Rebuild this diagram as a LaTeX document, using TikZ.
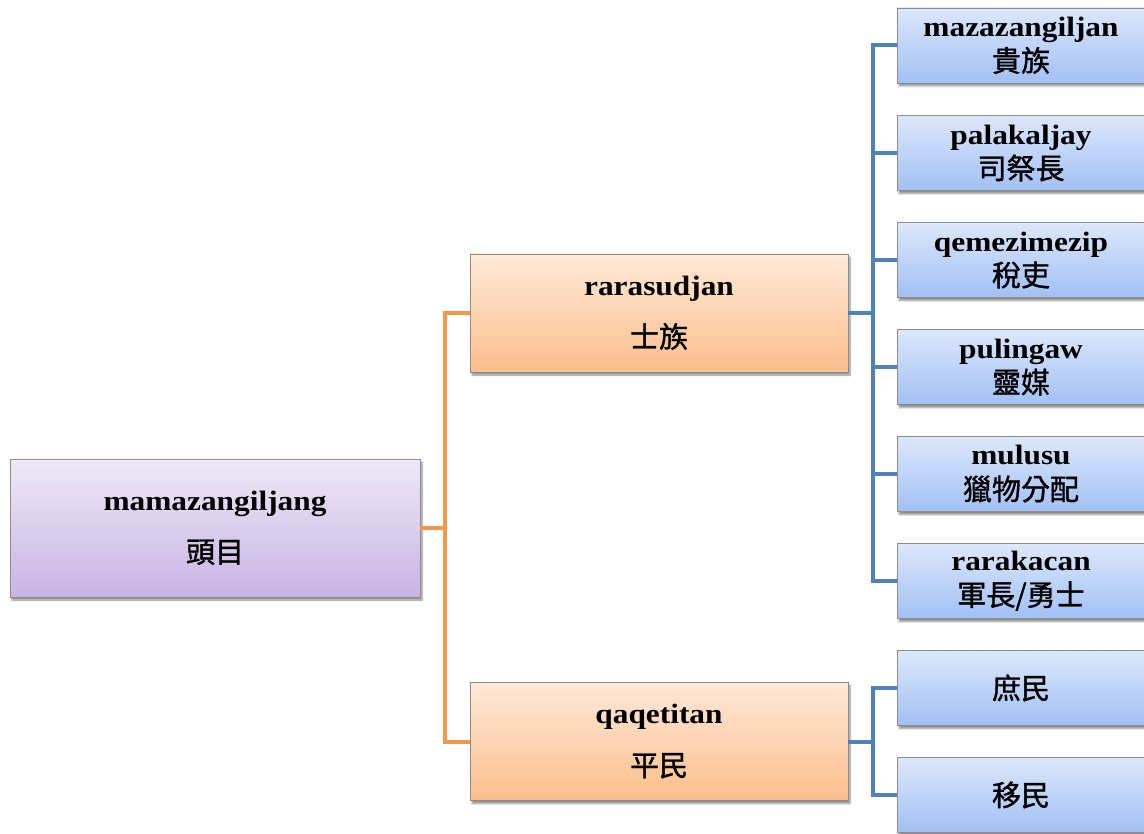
\documentclass[tikz,border=0pt]{standalone}
\usepackage{fontspec}
\setmainfont{Liberation Serif}[FakeStretch=1.12]
\newfontfamily\cjk{Noto Sans CJK TC}[FakeBold=1.2]
\usetikzlibrary{shadows.blur}
\definecolor{purtop}{HTML}{EEE8F7}
\definecolor{purbot}{HTML}{C8B4E4}
\definecolor{orgtop}{HTML}{FFE9D8}
\definecolor{orgbot}{HTML}{FBBE8C}
\definecolor{blutop}{HTML}{DCE7FB}
\definecolor{blubot}{HTML}{A2C0F4}
\definecolor{orgline}{HTML}{F79646}
\definecolor{bluline}{HTML}{4F81BD}
\definecolor{boxedge}{HTML}{8C8C8C}
\tikzset{
  box/.style={draw=boxedge, line width=0.8pt, align=center, inner sep=0pt,
    font=\fontsize{28}{35}\selectfont\bfseries,
    blur shadow={shadow xshift=2pt, shadow yshift=-3pt, shadow blur steps=6, shadow opacity=45}},
  rootbox/.style={box, top color=purtop, bottom color=purbot, minimum width=410pt, minimum height=138pt},
  midbox/.style={box, top color=orgtop, bottom color=orgbot, minimum width=378pt, minimum height=118pt},
  leafbox/.style={box, top color=blutop, bottom color=blubot, minimum width=248pt, minimum height=75pt},
  oline/.style={draw=orgline, line width=4pt},
  bline/.style={draw=bluline, line width=4pt},
}
\newcommand{\ck}[1]{{\cjk\mdseries\fontsize{29}{35}\selectfont #1}}
\begin{document}
\begin{tikzpicture}[x=1pt,y=-1pt]
\useasboundingbox (0,0) rectangle (1144,834);
\node[rootbox] (root) at (215,528) {mamazangiljang\\[17pt]\ck{頭目}};
\node[midbox] (mid1) at (659,313) {rarasudjan\\[17pt]\ck{士族}};
\node[midbox] (mid2) at (659,741.5) {qaqetitan\\[17pt]\ck{平民}};
\node[leafbox] (r1) at (1021,45.5) {mazazangiljan\\\ck{貴族}};
\node[leafbox] (r2) at (1021,153) {palakaljay\\\ck{司祭長}};
\node[leafbox] (r3) at (1021,260) {qemezimezip\\\ck{稅吏}};
\node[leafbox] (r4) at (1021,367) {pulingaw\\\ck{靈媒}};
\node[leafbox] (r5) at (1021,474) {mulusu\\\ck{獵物分配}};
\node[leafbox] (r6) at (1021,581) {rarakacan\\\ck{軍長/勇士}};
\node[leafbox] (r7) at (1021,688) {\ck{庶民}};
\node[leafbox] (r8) at (1021,795) {\ck{移民}};
\coordinate (oj) at (root.east -| 445,0);
\coordinate (bj) at (mid1.east -| 873,0);
\coordinate (bk) at (mid2.east -| 873,0);
\draw[oline] (root.east) -- (oj);
\draw[oline] (mid1.west) -| (oj) |- (mid2.west);
\draw[bline] (mid1.east) -- (bj);
\draw[bline] (r1.west) -| (bj) |- (r6.west);
\draw[bline] (r2.west) -- (r2.west -| bj);
\draw[bline] (r3.west) -- (r3.west -| bj);
\draw[bline] (r4.west) -- (r4.west -| bj);
\draw[bline] (r5.west) -- (r5.west -| bj);
\draw[bline] (mid2.east) -- (bk);
\draw[bline] (r7.west) -| (bk) |- (r8.west);
\end{tikzpicture}
\end{document}
